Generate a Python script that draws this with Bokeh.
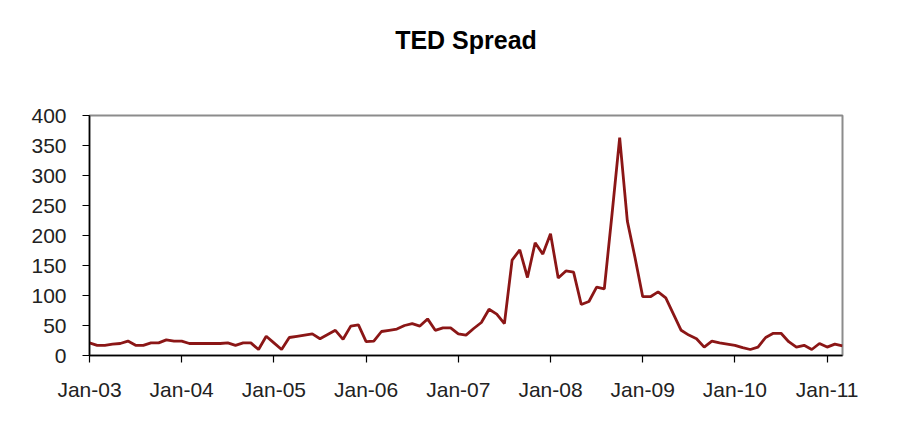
from bokeh.plotting import figure
from bokeh.models import Range1d, FixedTicker, Title, LinearAxis
from bokeh.embed import file_html
from bokeh.resources import INLINE

# Monthly TED spread (basis points), Jan-2003 .. Mar-2011
years = [2003, 2004, 2005, 2006, 2007, 2008, 2009, 2010, 2011]
months = [f"{y}-{m:02d}" for y in years for m in range(1, 13)][:99]

ted = [
    # 2003
    21, 17, 17, 19, 20, 24, 17, 17, 21, 21, 26, 24,
    # 2004
    24, 20, 20, 20, 20, 20, 21, 17, 21, 21, 10, 32,
    # 2005
    21, 10, 30, 32, 34, 36, 28, 35, 42, 27, 49, 51,
    # 2006
    23, 24, 40, 42, 44, 50, 53, 49, 61, 42, 46, 46,
    # 2007
    36, 34, 45, 55, 77, 69, 53, 159, 176, 130, 188, 169,
    # 2008
    203, 129, 141, 139, 85, 90, 114, 111, 235, 363, 224, 163,
    # 2009
    98, 98, 106, 96, 69, 42, 34, 28, 14, 24, 21, 19,
    # 2010
    17, 13, 10, 14, 30, 37, 37, 23, 14, 17, 10, 20,
    # 2011
    14, 19, 16,
]

title_text = "TED Spread"
tick_labels = ["Jan-03", "Jan-04", "Jan-05", "Jan-06", "Jan-07",
               "Jan-08", "Jan-09", "Jan-10", "Jan-11"]
y_ticks = [0, 50, 100, 150, 200, 250, 300, 350, 400]

x_idx = list(range(len(months)))
tick_pos = [months.index(f"20{lab[-2:]}-01") for lab in tick_labels]

p = figure(width=891, height=417, output_backend="svg", toolbar_location=None,
           x_range=Range1d(0, len(months) - 1), y_range=Range1d(0, 400),
           min_border_left=89, min_border_right=49, min_border_top=115,
           min_border_bottom=62)

p.line(x_idx, ted, line_color="#8b1616", line_width=2.8)

xax = p.below[0]
yax = p.left[0]

# invisible spacer axis between frame and title (one hidden tick, blank label)
spacer = LinearAxis(ticker=FixedTicker(ticks=[0]), axis_line_color=None,
                    major_tick_line_color=None, minor_tick_line_color=None,
                    major_tick_out=62, major_tick_in=0, minor_tick_out=0,
                    major_label_standoff=0, major_label_overrides={0: ""},
                    major_label_text_font_size="1px", major_label_text_alpha=0)
p.add_layout(spacer, "above")
p.add_layout(Title(text=title_text, text_font="Liberation Sans", text_font_style="bold",
                   text_font_size="25px", text_color="#000000", align="center",
                   standoff=0, offset=-4), "above")

p.xgrid.visible = False
p.ygrid.visible = False
p.outline_line_color = "#8c8c8c"
p.outline_line_width = 2
p.background_fill_color = "white"
p.border_fill_color = "white"

xax.ticker = FixedTicker(ticks=tick_pos)
xax.major_label_overrides = {pos: lab for pos, lab in zip(tick_pos, tick_labels)}
yax.ticker = FixedTicker(ticks=y_ticks)

for ax in (xax, yax):
    ax.axis_line_color = "#000000"
    ax.axis_line_width = 1.5
    ax.major_tick_line_color = "#000000"
    ax.major_tick_line_width = 1.2
    ax.major_tick_out = 7
    ax.major_tick_in = 0
    ax.minor_tick_out = 0
    ax.minor_tick_in = 0
    ax.major_label_text_font = "Liberation Sans"
    ax.major_label_text_font_size = "21px"
    ax.major_label_text_color = "#222222"

xax.major_label_standoff = 15
yax.major_label_standoff = 16

open("out.html", "w").write(file_html(p, INLINE))
